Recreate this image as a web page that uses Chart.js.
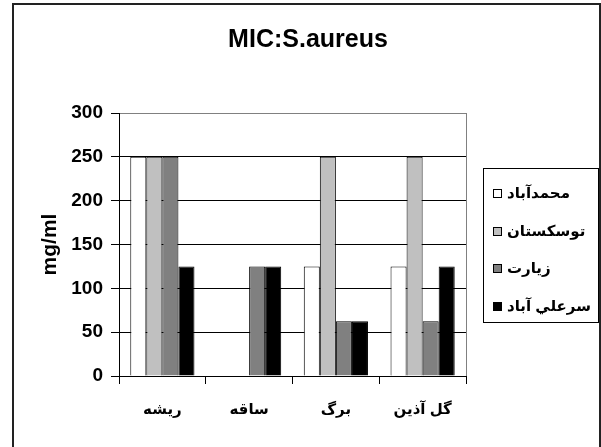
<!DOCTYPE html>
<html>
<head>
<meta charset="utf-8">
<script src="https://cdn.jsdelivr.net/npm/chart.js@4/dist/chart.umd.min.js"></script>
<style>
  html, body { margin: 0; padding: 0; background: #fff; }
  #wrap { width: 601px; height: 447px; }
</style>
</head>
<body>
<div id="wrap"><canvas id="c" width="601" height="447"></canvas></div>
<script>
// Plant parts tested
const categories = ['ریشه', 'ساقه', 'برگ', 'گل آذین'];
// Collection sites (series names)
const seriesNames = ['محمدآباد', 'توسکستان', 'زيارت', 'سرعلي آباد'];
// MIC values (mg/ml) per site, one per plant part
const mohammadabad = [250, 0, 125, 125];
const tooskestan = [250, 0, 250, 250];
const ziarat = [250, 125, 62.5, 62.5];
const sarAliabad = [125, 125, 62.5, 125];
// Value axis
const yMin = 0, yMax = 300, yStep = 50;

const seriesValues = [mohammadabad, tooskestan, ziarat, sarAliabad];
const fills = ['#FFFFFF', '#C0C0C0', '#808080', '#000000'];
const FONT = '"Liberation Sans", Arial, "DejaVu Sans", sans-serif';

// White page, outer frame, plot border and boxed legend
const decorPlugin = {
  id: 'decor',
  beforeDraw(chart) {
    const ctx = chart.ctx;
    ctx.save();
    ctx.fillStyle = '#fff';
    ctx.fillRect(0, 0, chart.width, chart.height);
    ctx.restore();
  },
  afterDraw(chart) {
    const ctx = chart.ctx;
    const a = chart.chartArea;
    ctx.save();
    // right edge of plot area
    ctx.strokeStyle = '#808080';
    ctx.lineWidth = 1;
    ctx.beginPath();
    ctx.moveTo(Math.round(a.right) + 0.5, a.top);
    ctx.lineTo(Math.round(a.right) + 0.5, a.bottom);
    ctx.stroke();

    // legend box
    const lw = 115, lh = 154;
    const lx = Math.round(a.right) + 17;
    const ly = Math.round((a.top + a.bottom) / 2 - lh / 2);
    ctx.strokeStyle = '#000';
    ctx.strokeRect(lx + 0.5, ly + 0.5, lw, lh);
    const rowH = 37.7;
    const firstY = ly + 25;
    ctx.font = 'bold 15px ' + FONT;
    ctx.textBaseline = 'middle';
    ctx.textAlign = 'left';
    chart.data.datasets.forEach((ds, i) => {
      const cy = Math.round(firstY + i * rowH);
      ctx.fillStyle = ds.backgroundColor;
      ctx.fillRect(lx + 10, cy - 4, 9, 9);
      ctx.strokeStyle = '#000';
      ctx.strokeRect(lx + 10.5, cy - 3.5, 8, 8);
      ctx.fillStyle = '#000';
      ctx.fillText(ds.label, lx + 24, cy + 1);
    });

    // outer frame
    ctx.strokeStyle = '#222';
    ctx.lineWidth = 2;
    ctx.strokeRect(13, 4, 587, 460);
    ctx.restore();
  }
};

new Chart(document.getElementById('c'), {
  type: 'bar',
  data: {
    labels: categories,
    datasets: seriesNames.map((name, i) => ({
      label: name,
      data: seriesValues[i],
      backgroundColor: fills[i],
      borderColor: '#000',
      borderWidth: 1,
      borderSkipped: 'bottom'
    }))
  },
  options: {
    responsive: false,
    animation: false,
    devicePixelRatio: 1,
    layout: { padding: { left: 15, right: 0, top: 0, bottom: 0 } },
    datasets: { bar: { categoryPercentage: 0.74, barPercentage: 1 } },
    plugins: {
      legend: { display: false },
      tooltip: { enabled: false },
      title: {
        display: true,
        text: 'MIC:S.aureus',
        color: '#000',
        font: { family: FONT, size: 25, weight: 'bold', lineHeight: 1.2 },
        padding: { top: 25, bottom: 58 }
      }
    },
    scales: {
      x: {
        offset: true,
        grid: {
          offset: true,
          drawOnChartArea: false,
          drawTicks: true,
          tickLength: 8,
          color: '#000',
          tickColor: '#000'
        },
        border: { display: true, color: '#000', width: 1 },
        ticks: {
          color: '#000',
          padding: 17,
          maxRotation: 0,
          font: { family: FONT, size: 15, weight: 'bold' }
        },
        afterFit(s) { s.height = 71; }
      },
      y: {
        min: yMin,
        max: yMax,
        ticks: {
          stepSize: yStep,
          color: '#000',
          padding: 8,
          font: { family: FONT, size: 19, weight: 'bold' }
        },
        grid: {
          drawTicks: true,
          tickLength: 8,
          color: (c) => (c.tick && c.tick.value === yMax ? '#808080' : '#000'),
          tickColor: '#000'
        },
        border: { display: true, color: '#000', width: 1 },
        title: {
          display: true,
          text: 'mg/ml',
          color: '#000',
          font: { family: FONT, size: 21, weight: 'bold', lineHeight: 1.2 },
          padding: { top: 23, bottom: 0 }
        },
        afterFit(s) { s.width = 104; }
      },
      // reserves room on the right for the legend box
      side: {
        type: 'linear',
        position: 'right',
        display: true,
        grid: { display: false, drawTicks: false },
        border: { display: false },
        ticks: { display: false },
        afterFit(s) { s.width = 135; }
      }
    }
  },
  plugins: [decorPlugin]
});
</script>
</body>
</html>
